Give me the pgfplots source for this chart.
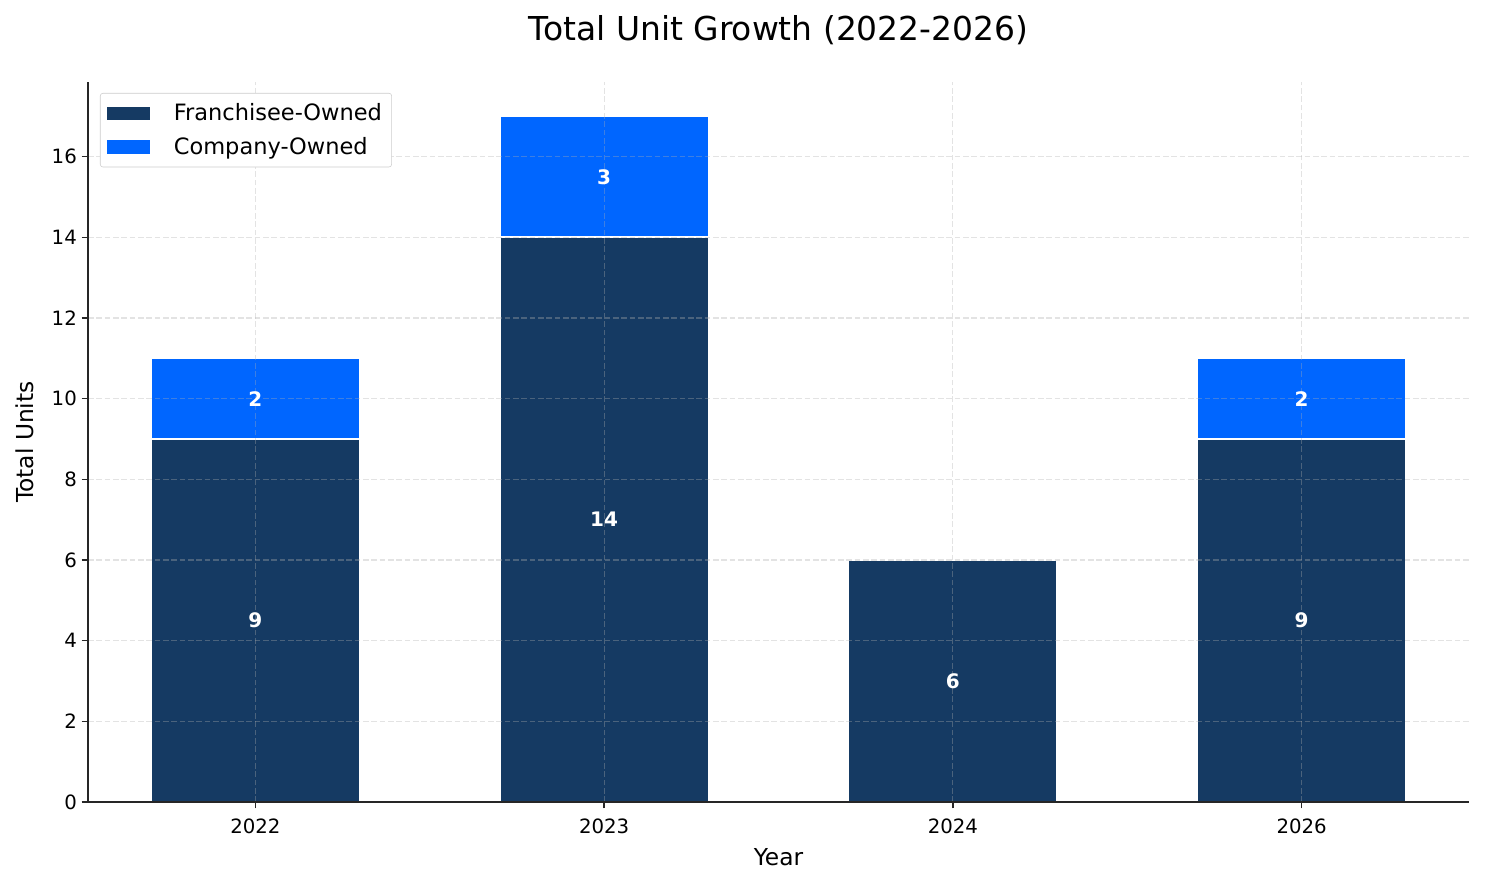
\documentclass[border=0pt]{standalone}
\usepackage{pgfplots}
\pgfplotsset{compat=1.18}
\usepackage{fontspec}
\setmainfont{DejaVu Sans}

\definecolor{franchise}{HTML}{153A63}
\definecolor{company}{HTML}{0066FF}
\definecolor{gridc}{RGB}{176,176,176}

\pgfplotsset{
  sqlegend/.style={legend image code/.code={\fill[##1, draw=none, sharp corners, fill opacity=1] (0pt,-4.7pt) rectangle (31pt,4.7pt);}},
}

\begin{document}
\begin{tikzpicture}
\begin{axis}[
    name=ax,
    scale only axis,
    width=994.3pt, height=518.4pt,
    xmin=-0.48, xmax=3.48,
    ymin=0, ymax=17.85,
    xtick={0,1,2,3},
    xticklabels={2022,2023,2024,2026},
    ytick={0,2,...,16},
    axis x line*=bottom,
    axis y line*=left,
    axis line style={line width=1pt, black!85},
    tick style={line width=1pt, black!85},
    tick align=outside,
    major tick length=4.5pt,
    ticklabel style={font=\fontsize{14.2}{16}\selectfont},
    xticklabel style={yshift=-4pt},
    /pgf/number format/assume math mode=true,
    grid=major,
    major grid style={draw=gridc, opacity=0.35, line width=0.8pt, dash pattern=on 4pt off 2pt},
    axis on top,
    title={Total Unit Growth (2022-2026)},
    title style={font=\fontsize{23.7}{28}\selectfont, at={(rel axis cs:0.5,1)}, anchor=base, yshift=23.7pt},
    xlabel={Year},
    xlabel style={font=\fontsize{16.8}{20}\selectfont, at={(rel axis cs:0.5,0)}, anchor=base, yshift=-45.4pt},
    ylabel={Total Units},
    ylabel style={font=\fontsize{16.8}{20}\selectfont, at={(rel axis cs:0,0.5)}, anchor=base, yshift=39pt},
    legend cell align=left,
    legend style={at={(rel axis cs:0,1)}, anchor=north west, xshift=8.6pt, yshift=-7.9pt,
      font=\fontsize{16.2}{19}\selectfont, draw=black!20, rounded corners=2pt,
      fill=white, row sep=6.5pt, column sep=15pt,
      inner xsep=5pt, inner ysep=5.5pt,
      nodes={inner sep=2pt}},
  ]
  % legend entries
  \addlegendimage{sqlegend, fill=franchise}
  \addlegendentry{Franchisee-Owned}
  \addlegendimage{sqlegend, fill=company}
  \addlegendentry{Company-Owned}

  % total bars (company part shows above franchise part)
  \addplot[ybar, bar shift=0pt, bar width=0.6, fill=company, draw=white, line width=1.5pt, forget plot]
    coordinates {(0,11) (1,17) (3,11)};
  % franchisee bars
  \addplot[ybar, bar shift=0pt, bar width=0.6, fill=franchise, draw=white, line width=1.5pt, forget plot]
    coordinates {(0,9) (1,14) (2,6) (3,9)};

  % centred value labels
  \addplot[draw=none, mark=none, forget plot,
    nodes near coords, point meta=explicit symbolic,
    nodes near coords align=center,
    nodes near coords style={text=white, font=\fontsize{14.4}{16}\selectfont\bfseries, anchor=center}]
    table[meta=lab] {
      x y lab
      0 4.5 9
      1 7 14
      2 3 6
      3 4.5 9
      0 10 2
      1 15.5 3
      3 10 2
    };
\end{axis}
\pgfresetboundingbox
\path[use as bounding box] ([xshift=-63.36pt,yshift=-59.04pt]ax.south west) rectangle ([xshift=11.52pt,yshift=59.04pt]ax.north east);
\end{tikzpicture}
\end{document}
